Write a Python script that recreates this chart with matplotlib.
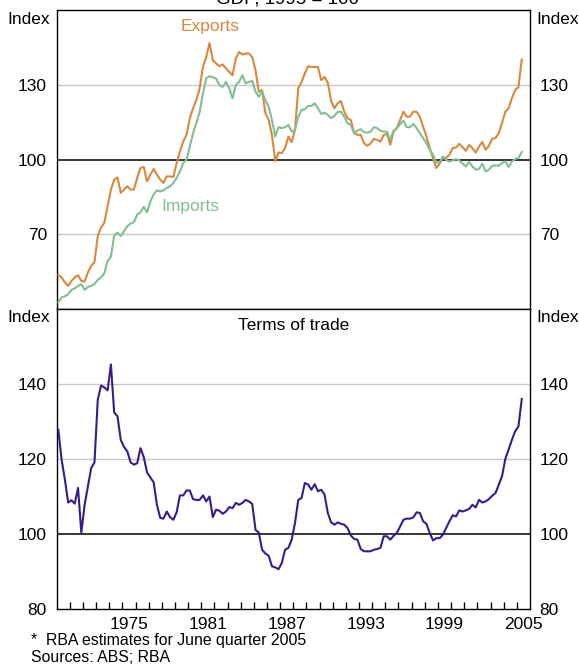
import matplotlib
matplotlib.use('Agg')
import matplotlib.pyplot as plt
import numpy as np

plt.rcParams['font.family'] = ['Liberation Sans', 'DejaVu Sans']

# quarterly data, Mar 1970 to Jun 2005
exports = [53.7, 52.7, 50.7, 49.3, 51.3, 52.7, 53.6, 51.3, 51.0, 54.7,
           57.3, 58.9, 69.3, 72.7, 74.7, 81.3, 88.0, 92.0, 92.9, 86.7,
           88.0, 89.3, 88.0, 88.0, 92.7, 96.7, 97.1, 91.3, 94.0, 96.3,
           94.0, 92.0, 90.7, 93.3, 93.3, 93.1, 98.7, 103.3, 107.3, 110.0,
           116.7, 120.7, 124.0, 128.7, 137.3, 141.3, 146.9, 140.0, 138.7, 137.6,
           138.3, 136.7, 135.3, 134.0, 140.7, 143.3, 142.3, 142.7, 142.7, 141.3,
           136.0, 127.3, 128.0, 118.7, 116.0, 110.0, 99.5, 102.9, 102.7, 104.7,
           109.3, 107.1, 112.0, 128.7, 131.3, 134.7, 137.6, 137.3, 137.3, 137.3,
           132.0, 133.3, 130.9, 123.6, 120.7, 122.7, 123.6, 119.3, 116.7, 116.0,
           110.7, 110.0, 110.0, 106.7, 105.6, 106.5, 108.4, 108.0, 107.3, 110.0,
           110.4, 106.0, 111.3, 112.7, 116.0, 119.3, 117.3, 117.3, 119.3, 119.3,
           117.3, 113.3, 109.3, 104.7, 100.7, 96.7, 98.4, 100.7, 100.7, 102.0,
           104.7, 104.9, 106.4, 105.1, 103.6, 106.0, 104.7, 102.9, 105.3, 107.2,
           104.0, 105.6, 108.4, 108.7, 110.7, 114.7, 119.3, 120.7, 124.7, 128.0,
           129.3, 140.3]

imports = [42.7, 44.7, 45.1, 46.0, 47.7, 48.3, 49.3, 50.0, 47.7, 48.9,
           49.3, 50.0, 51.7, 52.7, 54.4, 59.3, 61.1, 69.6, 70.7, 69.3,
           71.3, 73.3, 74.4, 74.9, 78.0, 78.9, 81.1, 78.9, 83.3, 86.0,
           87.7, 87.3, 87.7, 88.7, 89.3, 90.7, 92.7, 95.3, 98.7, 100.0,
           105.3, 110.7, 114.7, 119.3, 126.7, 132.7, 133.6, 133.1, 132.7, 130.0,
           129.3, 131.3, 128.7, 124.7, 130.0, 131.3, 134.0, 130.7, 131.3, 131.7,
           127.3, 125.3, 127.3, 124.0, 121.3, 116.0, 109.3, 113.1, 112.7, 113.1,
           114.0, 111.3, 112.0, 117.3, 120.0, 120.3, 121.6, 121.6, 122.7, 120.7,
           118.4, 118.9, 118.0, 116.7, 117.6, 119.3, 119.3, 117.3, 114.7, 114.0,
           110.7, 111.7, 112.3, 111.1, 110.9, 111.3, 113.1, 112.7, 111.7, 111.3,
           111.3, 108.0, 111.7, 112.7, 114.3, 115.7, 113.1, 113.1, 114.4, 112.7,
           110.7, 108.7, 106.7, 104.0, 102.0, 98.9, 98.9, 101.3, 100.0, 99.3,
           99.7, 100.3, 99.7, 98.4, 97.3, 99.1, 97.3, 96.0, 96.3, 98.4,
           95.3, 96.0, 97.6, 97.7, 97.6, 98.7, 99.3, 97.1, 99.3, 100.3,
           100.7, 103.1]

terms_of_trade = [127.8, 119.8, 114.5, 108.4, 109.0, 108.1, 112.3, 100.3, 107.8, 112.7,
                  117.6, 119.1, 135.8, 139.6, 139.1, 138.3, 145.2, 132.4, 131.4, 125.1,
                  123.2, 122.0, 119.1, 118.5, 118.9, 122.9, 120.5, 116.4, 115.1, 113.8,
                  107.8, 104.3, 104.1, 106.0, 104.5, 103.8, 105.8, 110.3, 110.3, 111.6,
                  111.6, 109.3, 109.1, 109.1, 110.3, 108.7, 110.0, 104.5, 106.5, 106.2,
                  105.4, 106.0, 107.2, 106.9, 108.3, 107.8, 108.3, 109.1, 108.7, 108.0,
                  101.1, 100.4, 95.8, 94.8, 94.2, 91.4, 91.1, 90.6, 92.3, 95.8,
                  96.3, 98.5, 102.9, 109.1, 109.6, 113.6, 113.2, 111.8, 113.3, 111.4,
                  111.8, 110.5, 105.6, 103.1, 102.5, 103.1, 102.7, 102.5, 101.6, 99.6,
                  98.7, 98.5, 96.0, 95.4, 95.4, 95.4, 95.8, 96.0, 96.3, 99.4,
                  99.4, 98.5, 99.5, 100.3, 102.0, 103.8, 104.1, 104.1, 104.4, 105.8,
                  105.6, 103.4, 102.7, 100.3, 98.3, 98.9, 98.9, 99.8, 101.6, 103.4,
                  105.0, 104.7, 106.3, 106.0, 106.3, 106.7, 107.8, 107.1, 109.1, 108.4,
                  108.7, 109.3, 110.2, 110.9, 113.1, 115.4, 120.0, 122.5, 125.1, 127.4,
                  128.7, 136.0]

dates = 1970.125 + 0.25 * np.arange(len(exports))

year_labels = ['1975', '1981', '1987', '1993', '1999', '2005']

orange = '#D8893C'
green = '#80BF92'
purple = '#3B1A8C'
grid_c = '#C8C8C8'

fig = plt.figure(figsize=(5.79, 6.64), dpi=100)
ax1 = fig.add_axes([0.0979, 0.5346, 0.8174, 0.4496])
ax2 = fig.add_axes([0.0979, 0.0828, 0.8174, 0.4518])

for ax, lo, hi, grids in [(ax1, 40, 160, [70, 130]), (ax2, 80, 160, [120, 140])]:
    ax.set_xlim(1970, 2006)
    ax.set_ylim(lo, hi)
    for g in grids:
        ax.axhline(g, color=grid_c, lw=1.0, zorder=1)
    ax.axhline(100, color='black', lw=1.1, zorder=2)
    ax.tick_params(axis='y', length=0, labelleft=True, labelright=True,
                   labelsize=12.5, pad=7)
    for s in ax.spines.values():
        s.set_linewidth(1.0)

ax1.plot(dates, exports, color=orange, lw=1.5, zorder=3)
ax1.plot(dates, imports, color=green, lw=1.5, zorder=3)
ax1.set_yticks([70, 100, 130])
ax1.set_xticks([])

ax2.plot(dates, terms_of_trade, color=purple, lw=1.5, zorder=3)
ax2.set_yticks([80, 100, 120, 140])
ax2.set_xticks(np.arange(1971, 2006))
ax2.set_xticklabels([])
ax2.tick_params(axis='x', which='major', direction='in', length=5, width=1)
ax2.set_xticks([int(y) + 0.5 for y in year_labels], minor=True)
ax2.set_xticklabels(year_labels, minor=True)
ax2.tick_params(axis='x', which='minor', length=0, labelsize=12.5, pad=6)

ax1.text(210 / 579, 1 - 27 / 664, 'Exports', transform=fig.transFigure,
         color=orange, fontsize=12.5, ha='center', va='center')
ax1.text(190 / 579, 1 - 206 / 664, 'Imports', transform=fig.transFigure,
         color=green, fontsize=12.5, ha='center', va='center')
ax2.text(0.5, 1 - 16 / 300, 'Terms of trade', transform=ax2.transAxes,
         fontsize=12.5, ha='center', va='center')

# unit labels
for yy in [20, 318]:
    fig.text(50 / 579, 1 - yy / 664, 'Index', fontsize=12.5, ha='right', va='center')
    fig.text(536 / 579, 1 - yy / 664, 'Index', fontsize=12.5, ha='left', va='center')

# subtitle, cut off at the top edge as in the original
fig.text(287 / 579, 1 - 4 / 664, 'GDP, 1995 = 100', fontsize=13.5,
         ha='center', va='baseline')

fig.text(31 / 579, 1 - 641 / 664, '*  RBA estimates for June quarter 2005',
         fontsize=11.4, ha='left', va='center')
fig.text(31 / 579, 1 - 657 / 664, 'Sources: ABS; RBA',
         fontsize=11.4, ha='left', va='center')

fig.savefig('out.png', dpi=100)
